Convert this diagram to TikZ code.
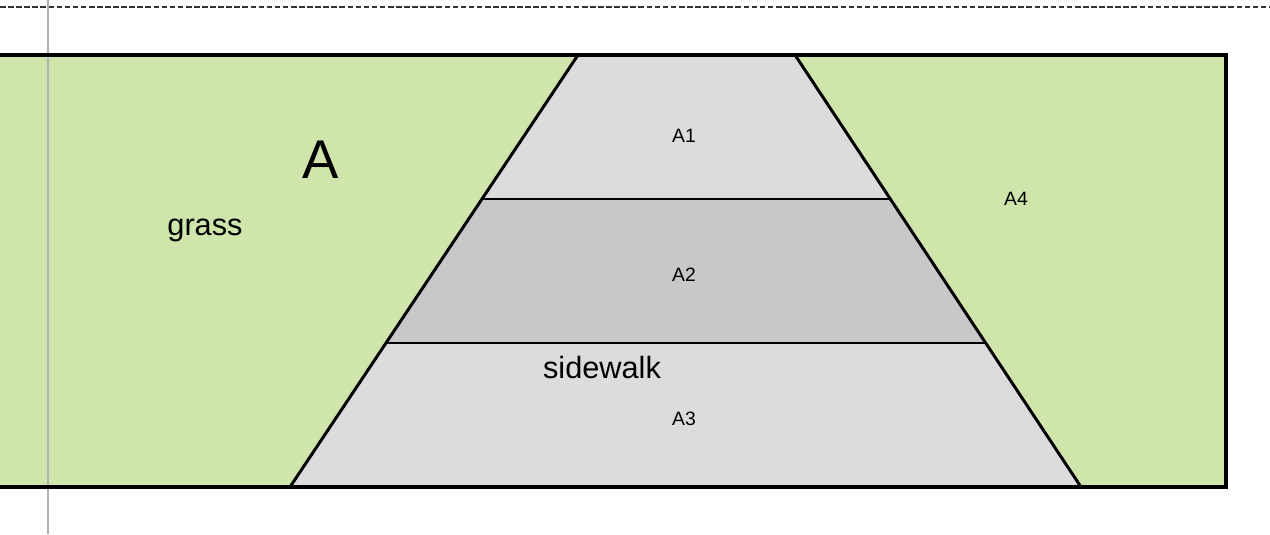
\documentclass[tikz,border=0pt]{standalone}
\usepackage{fontspec}
\setmainfont{Liberation Sans}
\definecolor{lawn}{RGB}{208,229,172}
\definecolor{pave}{RGB}{220,220,220}
\definecolor{pavedark}{RGB}{200,200,200}
\tikzset{
grass/.style={fill=lawn},
walk/.style={fill=pave},
walkdark/.style={fill=pavedark},
outline/.style={draw=black,line width=1.7pt},
frame/.style={draw=black,line width=2pt},
guide/.style={draw=gray!60,line width=1.1pt},
cutline/.style={draw=black!80,line width=1.5pt,dash pattern=on 3.2pt off 1.4pt},
smalltext/.style={font=\fontsize{11}{12}\selectfont},
bigtext/.style={font=\fontsize{17.5}{20}\selectfont},
hugetext/.style={font=\fontsize{31}{34}\selectfont},
}

\begin{document}
\begin{tikzpicture}[x=0.02cm,y=-0.02cm]
\useasboundingbox (0,0) rectangle (1270,534);

% trapezoid corners
\coordinate (tl) at (578,55);
\coordinate (tr) at (795,55);
\coordinate (bl) at (290,487);
\coordinate (br) at (1081,487);
\coordinate (l1) at (482,199);
\coordinate (r1) at (890,199);
\coordinate (l2) at (386,343);
\coordinate (r2) at (986,343);

\fill[grass] (-10,55) rectangle (1226,487);
\fill[walk] (tl) -- (tr) -- (r1) -- (l1) -- cycle;
\fill[walkdark] (l1) -- (r1) -- (r2) -- (l2) -- cycle;
\fill[walk] (l2) -- (r2) -- (br) -- (bl) -- cycle;

\draw[cutline] (0,7) -- (1270,7);
\draw[guide] (48,0) -- (48,534);

\draw[outline] (tl) -- (bl);
\draw[outline] (tr) -- (br);
\draw[outline] (l1) -- (r1);
\draw[outline] (l2) -- (r2);
\draw[frame] (-10,55) rectangle (1226,487);

\node[hugetext] (zone) at (321,160) {A};
\node[bigtext] (lawnname) at (205,230) {grass};
\node[bigtext] (walkname) at (602,368) {sidewalk};
\node[smalltext] (a1) at (684,136) {A1};
\node[smalltext] (a2) at (684,275) {A2};
\node[smalltext] (a3) at (684,419) {A3};
\node[smalltext] (a4) at (1016,199) {A4};
\end{tikzpicture}
\end{document}
